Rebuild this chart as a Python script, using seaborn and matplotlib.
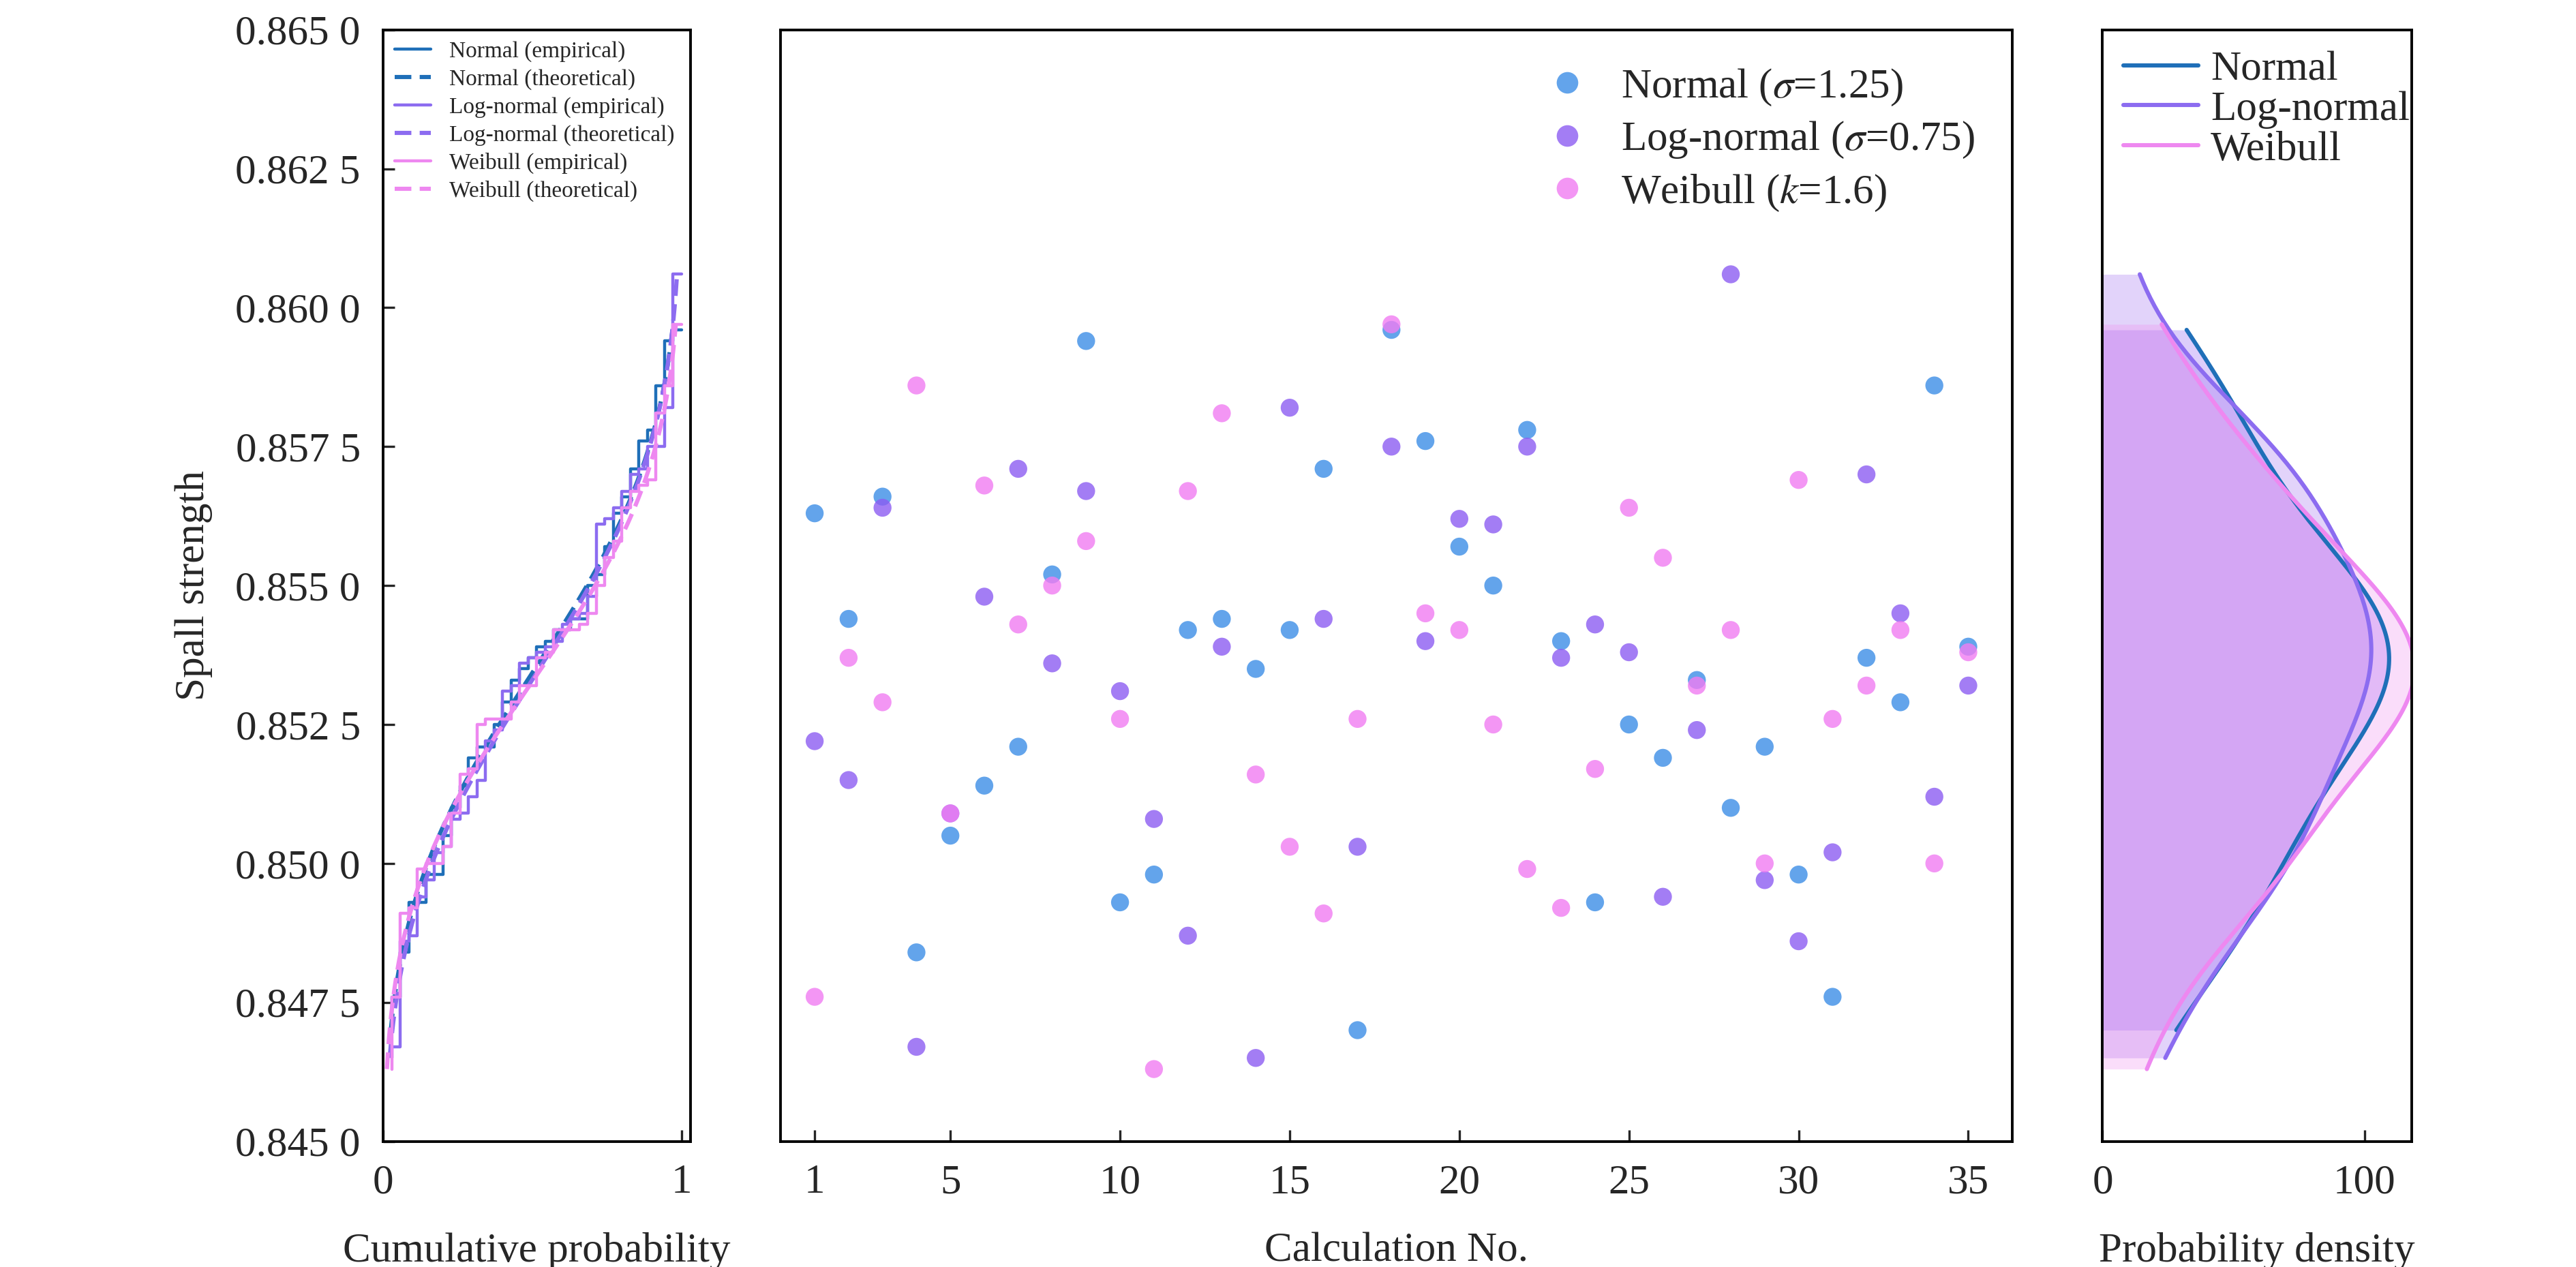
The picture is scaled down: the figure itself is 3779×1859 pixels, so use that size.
import numpy as np
import matplotlib
matplotlib.use("Agg")
import matplotlib.pyplot as plt
import seaborn as sns
import pandas as pd
from math import erf, sqrt

calc_no = list(range(1, 36))
normal = [0.8563,0.8544,0.8566,0.8484,0.8505,0.8514,0.8521,0.8552,0.8594,0.8493,0.8498,0.8542,0.8544,0.8535,0.8542,0.8571,0.8470,0.8596,0.8576,0.8557,0.8550,0.8578,0.8540,0.8493,0.8525,0.8519,0.8533,0.8510,0.8521,0.8498,0.8476,0.8537,0.8529,0.8586,0.8539]
lognormal = [0.8522,0.8515,0.8564,0.8467,0.8509,0.8548,0.8571,0.8536,0.8567,0.8531,0.8508,0.8487,0.8539,0.8465,0.8582,0.8544,0.8503,0.8575,0.8540,0.8562,0.8561,0.8575,0.8537,0.8543,0.8538,0.8494,0.8524,0.8606,0.8497,0.8486,0.8502,0.8570,0.8545,0.8512,0.8532]
weibull = [0.8476,0.8537,0.8529,0.8586,0.8509,0.8568,0.8543,0.8550,0.8558,0.8526,0.8463,0.8567,0.8581,0.8516,0.8503,0.8491,0.8526,0.8597,0.8545,0.8542,0.8525,0.8499,0.8492,0.8517,0.8564,0.8555,0.8532,0.8542,0.8500,0.8569,0.8526,0.8532,0.8542,0.8500,0.8538]
names = ["Normal", "Log-normal", "Weibull"]
scatter_labels = ["Normal ($\\sigma$=1.25)", "Log-normal ($\\sigma$=0.75)", "Weibull ($k$=1.6)"]
y_ticks = [0.845, 0.8475, 0.85, 0.8525, 0.855, 0.8575, 0.86, 0.8625, 0.865]

sns.set_theme(style="ticks")
plt.rcParams['font.family'] = ['Liberation Serif', 'DejaVu Serif']
plt.rcParams['mathtext.fontset'] = 'stix'
plt.rcParams['xtick.direction'] = 'in'
plt.rcParams['ytick.direction'] = 'in'

series = [normal, lognormal, weibull]
sc_colors = ["#3c8ee6", "#8c5cf2", "#f07cf2"]
ln_colors = ["#1f6fb8", "#8c6cf0", "#ee88f0"]
fill_colors = ["#8c5cf2", "#a070f0", "#f090f0"]

fig = plt.figure(figsize=(18.9, 9.295), dpi=200)
axL = fig.add_axes([0.1487, 0.0992, 0.1193, 0.8773])
axM = fig.add_axes([0.303, 0.0992, 0.478, 0.8773])
axR = fig.add_axes([0.816, 0.0992, 0.120, 0.8773])
fs = 22

# left: CDFs
for vals, c, nm in zip(series, ln_colors, names):
    s = np.sort(vals)
    n = len(s)
    p = np.arange(1, n + 1) / n
    axL.step(p, s, where="pre", color=c, lw=1.6, label=f"{nm} (empirical)")
    m, sd = np.mean(s), np.std(s, ddof=1)
    yy = np.linspace(s.min(), s.max(), 200)
    cdf = np.array([0.5 * (1 + erf((v - m) / (sd * sqrt(2)))) for v in yy])
    axL.plot(cdf, yy, ls=(0, (4, 2)), color=c, lw=2.2, label=f"{nm} (theoretical)")
axL.set_xlim(0, 1.03)
axL.set_ylim(0.845, 0.865)
axL.set_xticks([0, 1]); axL.set_xticklabels(["0", "1"])
axL.set_yticks(y_ticks)
axL.set_yticklabels([f"{v:.4f}"[:-1] + " " + f"{v:.4f}"[-1] for v in y_ticks])
axL.set_xlabel("Cumulative probability", fontsize=fs, labelpad=16)
axL.set_ylabel("Spall strength", fontsize=fs, labelpad=12)
axL.legend(loc="upper left", fontsize=12, frameon=False, handlelength=1.6,
           borderaxespad=0.1, labelspacing=0.3)

# middle: scatter
df = pd.DataFrame({"No": calc_no * 3, "v": normal + lognormal + weibull,
                   "dist": sum([[l] * 35 for l in scatter_labels], [])})
sns.scatterplot(data=df, x="No", y="v", hue="dist", palette=sc_colors, ax=axM,
                s=90, alpha=0.8, edgecolor=sc_colors * 0 or None, linewidth=0)
axM.set_ylim(0.845, 0.865)
axM.set_xlim(0, 36.3)
axM.set_xticks([1, 5, 10, 15, 20, 25, 30, 35])
axM.set_yticks([])
axM.set_ylabel("")
axM.set_xlabel("Calculation No.", fontsize=fs, labelpad=16)
axM.legend(loc="upper right", fontsize=fs, frameon=False, handletextpad=0.3,
           borderaxespad=0.5, markerscale=1.2, labelspacing=0.3)

# right: densities (KDE)
for vals, c, fc, nm in zip(series, ln_colors, fill_colors, names):
    sns.kdeplot(y=vals, ax=axR, color=fc, fill=True, alpha=0.3, cut=0, linewidth=0)
    sns.kdeplot(y=vals, ax=axR, color=c, cut=0, linewidth=2.2, label=nm)
axR.set_ylim(0.845, 0.865)
axR.set_xlim(0, 118)
axR.set_xticks([0, 100])
axR.set_yticks([])
axR.set_ylabel("")
axR.set_xlabel("Probability density", fontsize=fs, labelpad=16)
axR.legend(loc="upper left", fontsize=fs, frameon=False, handlelength=1.8,
           borderaxespad=0.1, labelspacing=0.05, handletextpad=0.3)

for ax in (axL, axM, axR):
    ax.tick_params(labelsize=fs, length=6, width=1.2, pad=12)
    for sp in ax.spines.values():
        sp.set_linewidth(1.4)
        sp.set_color("black")

fig.savefig("out.png", dpi=200)
